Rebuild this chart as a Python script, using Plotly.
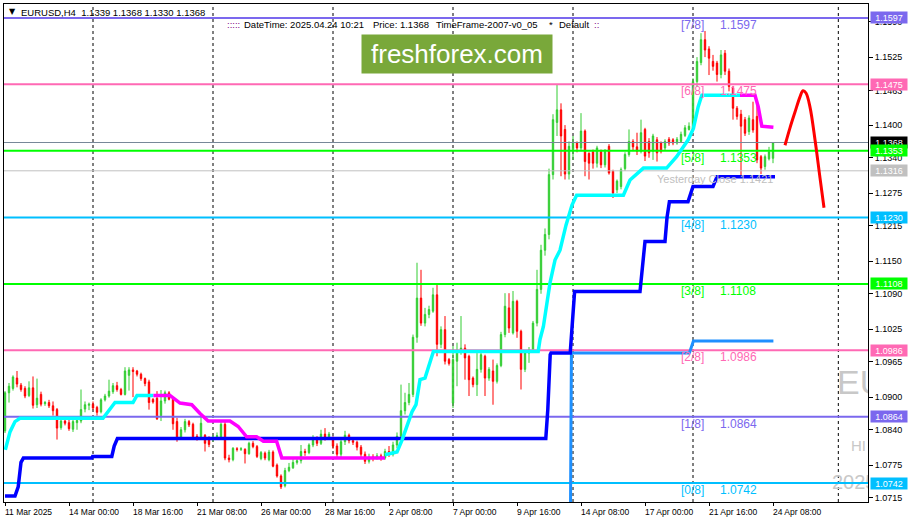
import plotly.graph_objects as go

# ---------------- data ----------------
x_tick_idx = [0, 16, 32, 48, 64, 80, 96, 112, 128, 144, 160, 176, 192]
x_tick_text = ["11 Mar 2025", "14 Mar 00:00", "18 Mar 16:00", "21 Mar 08:00", "26 Mar 00:00",
               "28 Mar 16:00", "2 Apr 08:00", "7 Apr 00:00", "9 Apr 16:00", "14 Apr 08:00",
               "17 Apr 00:00", "21 Apr 16:00", "24 Apr 08:00"]
y_tick_vals = [1.1590, 1.1525, 1.1463, 1.1400, 1.1340, 1.1275, 1.1215, 1.1150, 1.1090,
               1.1025, 1.0965, 1.0900, 1.0840, 1.0775, 1.0715]

opens = [
 1.0838, 1.0908, 1.0916, 1.0935, 1.0922, 1.0916, 1.0903, 1.0917, 1.0886, 1.0905,
 1.0888, 1.0890, 1.0884, 1.0877, 1.0844, 1.0856, 1.0853, 1.0841, 1.0853, 1.0856,
 1.0878, 1.0885, 1.0887, 1.0881, 1.0873, 1.0895, 1.0902, 1.0910, 1.0921, 1.0914,
 1.0905, 1.0940, 1.0950, 1.0948, 1.0942, 1.0934, 1.0928, 1.0896, 1.0898, 1.0866,
 1.0893, 1.0908, 1.0896, 1.0855, 1.0826, 1.0840, 1.0855, 1.0850, 1.0828, 1.0827,
 1.0830, 1.0825, 1.0823, 1.0827, 1.0826, 1.0850, 1.0788, 1.0785, 1.0805, 1.0804,
 1.0804, 1.0796, 1.0815, 1.0809, 1.0787, 1.0797, 1.0785, 1.0799, 1.0775, 1.0755,
 1.0737, 1.0765, 1.0770, 1.0780, 1.0783, 1.0800, 1.0798, 1.0812, 1.0822, 1.0815,
 1.0832, 1.0826, 1.0822, 1.0810, 1.0795, 1.0818, 1.0830, 1.0820, 1.0817, 1.0808,
 1.0795, 1.0782, 1.0790, 1.0788, 1.0792, 1.0788, 1.0800, 1.0795, 1.0812, 1.0828,
 1.0875, 1.0890, 1.0905, 1.1010, 1.1082, 1.1036, 1.1052, 1.1058, 1.1088, 1.0997,
 1.1024, 1.0969, 1.0889, 1.0966, 1.0987, 1.0990, 1.0975, 1.0935, 1.0923, 1.0951,
 1.0975, 1.0935, 1.0948, 1.0929, 1.0958, 1.1015, 1.1064, 1.1018, 1.1076, 1.1021,
 1.0951, 1.0981, 1.0987, 1.1036, 1.1098, 1.1170, 1.1199, 1.1309, 1.1405, 1.1428,
 1.1392, 1.1310, 1.1355, 1.1367, 1.1358, 1.1389, 1.1348, 1.1351, 1.1330, 1.1351,
 1.1327, 1.1361, 1.1315, 1.1281, 1.1287, 1.1320, 1.1346, 1.1370, 1.1360, 1.1352,
 1.1392, 1.1370, 1.1352, 1.1373, 1.1367, 1.1358, 1.1374, 1.1373, 1.1367, 1.1370,
 1.1381, 1.1392, 1.1393, 1.1480, 1.1515, 1.1557, 1.1540, 1.1517, 1.1514, 1.1493,
 1.1532, 1.1499, 1.1468, 1.1431, 1.1420, 1.1410, 1.1388, 1.1410, 1.1416, 1.1342,
 1.1324, 1.1338, 1.1339]
highs = [
 1.0911, 1.0926, 1.0940, 1.0948, 1.0926, 1.0920, 1.0929, 1.0938, 1.0934, 1.0910,
 1.0893, 1.0895, 1.0892, 1.0880, 1.0862, 1.0860, 1.0858, 1.0858, 1.0860, 1.0914,
 1.0892, 1.0890, 1.0892, 1.0884, 1.0898, 1.0906, 1.0932, 1.0926, 1.0928, 1.0917,
 1.0955, 1.0955, 1.0955, 1.0950, 1.0945, 1.0936, 1.0932, 1.0898, 1.0911, 1.0913,
 1.0912, 1.0911, 1.0900, 1.0862, 1.0845, 1.0860, 1.0858, 1.0853, 1.0832, 1.0866,
 1.0832, 1.0828, 1.0830, 1.0835, 1.0856, 1.0856, 1.0794, 1.0808, 1.0808, 1.0808,
 1.0806, 1.0818, 1.0819, 1.0812, 1.0801, 1.0800, 1.0803, 1.0802, 1.0778, 1.0758,
 1.0770, 1.0779, 1.0786, 1.0790, 1.0812, 1.0805, 1.0815, 1.0830, 1.0828, 1.0840,
 1.0843, 1.0836, 1.0828, 1.0815, 1.0822, 1.0838, 1.0833, 1.0824, 1.0820, 1.0812,
 1.0800, 1.0796, 1.0795, 1.0797, 1.0796, 1.0805, 1.0810, 1.0818, 1.0835, 1.0923,
 1.0908, 1.0926, 1.1015, 1.1147, 1.1134, 1.1064, 1.1068, 1.1101, 1.1107, 1.1030,
 1.1049, 1.0972, 1.0994, 1.1000, 1.1049, 1.0997, 1.0978, 1.0938, 1.0981, 1.0985,
 1.0978, 1.0955, 1.0969, 1.0962, 1.1020, 1.1091, 1.1091, 1.1095, 1.1079, 1.1024,
 1.0985, 1.0992, 1.1040, 1.1134, 1.1180, 1.1210, 1.1320, 1.1420, 1.1474, 1.1440,
 1.1400, 1.1370, 1.1380, 1.1370, 1.1422, 1.1392, 1.1350, 1.1355, 1.1362, 1.1355,
 1.1356, 1.1365, 1.1318, 1.1300, 1.1322, 1.1350, 1.1392, 1.1374, 1.1386, 1.1410,
 1.1395, 1.1376, 1.1384, 1.1378, 1.1370, 1.1374, 1.1378, 1.1376, 1.1378, 1.1388,
 1.1400, 1.1405, 1.1486, 1.1525, 1.1569, 1.1573, 1.1545, 1.1529, 1.1518, 1.1538,
 1.1538, 1.1504, 1.1472, 1.1435, 1.1428, 1.1415, 1.1418, 1.1443, 1.1440, 1.1345,
 1.1346, 1.1360, 1.1368]
lows = [
 1.0834, 1.0890, 1.0912, 1.0918, 1.0910, 1.0898, 1.0900, 1.0879, 1.0880, 1.0883,
 1.0884, 1.0880, 1.0866, 1.0822, 1.0840, 1.0848, 1.0838, 1.0836, 1.0840, 1.0852,
 1.0872, 1.0876, 1.0877, 1.0866, 1.0870, 1.0892, 1.0899, 1.0906, 1.0910, 1.0903,
 1.0903, 1.0912, 1.0900, 1.0938, 1.0930, 1.0920, 1.0877, 1.0888, 1.0858, 1.0856,
 1.0888, 1.0894, 1.0840, 1.0818, 1.0822, 1.0835, 1.0845, 1.0824, 1.0820, 1.0822,
 1.0800, 1.0808, 1.0818, 1.0824, 1.0822, 1.0784, 1.0780, 1.0782, 1.0800, 1.0801,
 1.0778, 1.0794, 1.0806, 1.0788, 1.0784, 1.0784, 1.0782, 1.0771, 1.0752, 1.0731,
 1.0734, 1.0762, 1.0768, 1.0776, 1.0778, 1.0792, 1.0795, 1.0808, 1.0810, 1.0812,
 1.0820, 1.0824, 1.0805, 1.0787, 1.0790, 1.0812, 1.0815, 1.0812, 1.0802, 1.0790,
 1.0777, 1.0778, 1.0782, 1.0785, 1.0783, 1.0785, 1.0790, 1.0791, 1.0806, 1.0822,
 1.0868, 1.0885, 1.0900, 1.1000, 1.1031, 1.1030, 1.1045, 1.1055, 1.0975, 1.0990,
 1.0960, 1.0958, 1.0880, 1.0920, 1.0978, 1.0932, 1.0902, 1.0918, 1.0902, 1.0945,
 1.0902, 1.0930, 1.0886, 1.0925, 1.0955, 1.1010, 1.1018, 1.1015, 1.1009, 1.0914,
 1.0946, 1.0963, 1.0982, 1.1030, 1.1090, 1.1160, 1.1190, 1.1300, 1.1380, 1.1306,
 1.1300, 1.1300, 1.1336, 1.1350, 1.1352, 1.1306, 1.1300, 1.1320, 1.1322, 1.1321,
 1.1322, 1.1309, 1.1266, 1.1275, 1.1282, 1.1316, 1.1342, 1.1352, 1.1345, 1.1348,
 1.1334, 1.1340, 1.1336, 1.1333, 1.1348, 1.1354, 1.1362, 1.1363, 1.1364, 1.1367,
 1.1378, 1.1390, 1.1388, 1.1470, 1.1510, 1.1525, 1.1492, 1.1500, 1.1480, 1.1486,
 1.1492, 1.1462, 1.1410, 1.1410, 1.1306, 1.1380, 1.1382, 1.1386, 1.1330, 1.1310,
 1.1318, 1.1335, 1.1330]
closes = [
 1.0908, 1.0920, 1.0937, 1.0924, 1.0914, 1.0902, 1.0917, 1.0885, 1.0898, 1.0887,
 1.0890, 1.0884, 1.0875, 1.0843, 1.0856, 1.0852, 1.0842, 1.0855, 1.0857, 1.0877,
 1.0886, 1.0887, 1.0880, 1.0872, 1.0895, 1.0902, 1.0911, 1.0921, 1.0914, 1.0905,
 1.0948, 1.0950, 1.0947, 1.0942, 1.0934, 1.0925, 1.0890, 1.0891, 1.0860, 1.0893,
 1.0908, 1.0896, 1.0851, 1.0822, 1.0840, 1.0855, 1.0849, 1.0827, 1.0826, 1.0852,
 1.0815, 1.0813, 1.0827, 1.0829, 1.0850, 1.0788, 1.0785, 1.0806, 1.0804, 1.0805,
 1.0796, 1.0815, 1.0809, 1.0791, 1.0798, 1.0788, 1.0799, 1.0773, 1.0755, 1.0735,
 1.0765, 1.0771, 1.0780, 1.0783, 1.0800, 1.0798, 1.0812, 1.0822, 1.0815, 1.0832,
 1.0826, 1.0832, 1.0810, 1.0795, 1.0818, 1.0830, 1.0820, 1.0817, 1.0808, 1.0795,
 1.0782, 1.0790, 1.0788, 1.0792, 1.0788, 1.0800, 1.0795, 1.0812, 1.0828, 1.0875,
 1.0890, 1.0905, 1.1010, 1.1082, 1.1036, 1.1052, 1.1061, 1.1088, 1.0997, 1.1024,
 1.0966, 1.0962, 1.0969, 1.0987, 1.0990, 1.0972, 1.0932, 1.0923, 1.0951, 1.0978,
 1.0935, 1.0951, 1.0929, 1.0958, 1.1015, 1.1067, 1.1027, 1.1076, 1.1021, 1.0951,
 1.0981, 1.0987, 1.1036, 1.1098, 1.1170, 1.1199, 1.1309, 1.1410, 1.1428, 1.1380,
 1.1310, 1.1361, 1.1367, 1.1358, 1.1389, 1.1333, 1.1330, 1.1330, 1.1358, 1.1327,
 1.1351, 1.1312, 1.1275, 1.1297, 1.1318, 1.1346, 1.1370, 1.1360, 1.1352, 1.1386,
 1.1343, 1.1349, 1.1380, 1.1349, 1.1352, 1.1370, 1.1367, 1.1367, 1.1374, 1.1383,
 1.1395, 1.1398, 1.1480, 1.1517, 1.1557, 1.1538, 1.1523, 1.1508, 1.1493, 1.1529,
 1.1499, 1.1471, 1.1431, 1.1416, 1.1398, 1.1385, 1.1413, 1.1391, 1.1336, 1.1321,
 1.1342, 1.1351, 1.1368]

murrey_names = ["[7/8]", "[6/8]", "[5/8]", "[4/8]", "[3/8]", "[2/8]", "[1/8]", "[0/8]"]
murrey_levels = [1.1597, 1.1475, 1.1353, 1.1230, 1.1108, 1.0986, 1.0864, 1.0742]
murrey_colors = ["#7B68EE", "#FF69B4", "#00FF00", "#00BFFF", "#00FF00", "#FF69B4", "#7B68EE", "#00BFFF"]

bid_price = 1.1368
prev_close_line = 1.1316

# trailing stop line (cyan = up, magenta = down), breakpoints (bar index, price)
trail_up_x = [0.08, 1.25, 2.5, 3.75, 24.5, 27.5, 32, 33, 37.1, None,
              95, 98, 99.25, 100.5, 101.75, 102.75, 103.75, 105, 106.25, 107.1, 133.3,
              133.75, 134.6, 136.25, 137.5, 138.75, 140.25, 141.75, 142.9, 154.6, 156.25,
              159.6, 165.4, 167.9, 169.6, 170.8, 172.1, 173.3, 174.2, 183.75]
trail_up_y = [1.0803, 1.0836, 1.0855, 1.0861, 1.0861, 1.0890, 1.0890, 1.0903, 1.0903, None,
              1.0794, 1.0799, 1.0821, 1.0848, 1.0873, 1.0886, 1.0932, 1.0935, 1.0963, 1.0984, 1.0984,
              1.1006, 1.1030, 1.1110, 1.1152, 1.1170, 1.1216, 1.1253, 1.1271, 1.1271, 1.1299,
              1.1321, 1.1321, 1.1342, 1.1360, 1.1373, 1.1394, 1.1434, 1.1455, 1.1455]
trail_dn_x = [37.1, 41.25, 43.75, 46.7, 48.75, 50.8, 56.25, 58.3, 60.4, 62.9, 64.6, 67.9, 69.2, 95, None,
              183.75, 187.5, 188.3, 189.2, 192.1]
trail_dn_y = [1.0903, 1.0903, 1.0889, 1.0886, 1.0870, 1.0856, 1.0856, 1.0846, 1.0827, 1.0827, 1.0819,
              1.0819, 1.0788, 1.0788, None,
              1.1455, 1.1455, 1.1434, 1.1398, 1.1396]

# blue step line
step_x = [0, 2.5, 3.3, 4.0, 4.6, 21.7, 21.9, 26.7, 27.3, 28.1, 135.2, 135.7, 136.3, 136.5, 141.3,
          142.0, 142.4, 158.75, 159.5, 160, 165, 165.5, 166.1, 170.75, 172, 177, 178, 192.5]
step_y = [1.0718, 1.0718, 1.0735, 1.0780, 1.0788, 1.0788, 1.0791, 1.0791, 1.0810, 1.0824, 1.0824,
          1.0877, 1.0978, 1.0981, 1.0981, 1.1060, 1.1094, 1.1094, 1.1150, 1.1186, 1.1186, 1.1230,
          1.1259, 1.1259, 1.1287, 1.1287, 1.1305, 1.1305]

# dodger blue line
db_x = [141.3, 141.6, 171.1, 172.1, 192.1]
db_y = [1.0600, 1.0981, 1.0981, 1.1003, 1.1003]

# red forecast curve
fc_x = [195, 196.25, 197.5, 198.75, 199.5, 200.25, 201.25, 202.5, 203.75, 204.75]
fc_y = [1.1363, 1.1395, 1.1424, 1.1452, 1.1463, 1.1459, 1.1433, 1.1373, 1.1303, 1.1248]

weekly_grid = [22, 52, 82, 112, 142, 172, 208.33]

# ---------------- geometry helpers ----------------
W, H = 911, 524
PL, PR, PT, PB = 4, 868, 4, 502
X_MIN, X_MAX = -0.25, 215.75
Y_MIN, Y_MAX = 1.07072, 1.16226


def pxx(px):
    return (px - PL) / (PR - PL)


def pxy(py):
    return (PB - py) / (PB - PT)


def dxx(px):
    return X_MIN + (px - PL) / (PR - PL) * (X_MAX - X_MIN)


def dyy(py):
    return Y_MAX - (py - PT) / (PB - PT) * (Y_MAX - Y_MIN)


FONT = "Liberation Sans, Arial, sans-serif"

fig = go.Figure()

# watermark text (clipped by plot area)
for txt, px, py, size in [("EU", 837, 385, 34), ("HI", 851, 447, 15), ("2025", 832, 484, 20)]:
    fig.add_trace(go.Scatter(x=[dxx(px)], y=[dyy(py)], mode="text", text=[txt],
                             textposition="middle right", cliponaxis=True,
                             textfont=dict(family=FONT, size=size, color="#C8C8C8"),
                             showlegend=False, hoverinfo="skip"))

bars = list(range(len(opens)))
fig.add_trace(go.Candlestick(
    x=bars, open=opens, high=highs, low=lows, close=closes,
    increasing=dict(line=dict(color="#32CD32", width=1), fillcolor="#32CD32"),
    decreasing=dict(line=dict(color="#FF0000", width=1), fillcolor="#FF0000"),
    whiskerwidth=0, showlegend=False, hoverinfo="skip"))

# horizontal lines
fig.add_trace(go.Scatter(x=[X_MIN, X_MAX], y=[prev_close_line] * 2, mode="lines",
                         line=dict(color="#C0C0C0", width=1), showlegend=False, hoverinfo="skip"))
fig.add_trace(go.Scatter(x=[X_MIN, X_MAX], y=[bid_price] * 2, mode="lines",
                         line=dict(color="#778899", width=1), showlegend=False, hoverinfo="skip"))
for lvl, col in zip(murrey_levels, murrey_colors):
    fig.add_trace(go.Scatter(x=[X_MIN, X_MAX], y=[lvl, lvl], mode="lines",
                             line=dict(color=col, width=2), showlegend=False, hoverinfo="skip"))

fig.add_trace(go.Scatter(x=db_x, y=db_y, mode="lines", line=dict(color="#1E90FF", width=3),
                         showlegend=False, hoverinfo="skip"))
fig.add_trace(go.Scatter(x=step_x, y=step_y, mode="lines", line=dict(color="#0000FF", width=3.5),
                         showlegend=False, hoverinfo="skip"))
fig.add_trace(go.Scatter(x=trail_up_x, y=trail_up_y, mode="lines", line=dict(color="#00FFFF", width=3.5),
                         showlegend=False, hoverinfo="skip", connectgaps=False))
fig.add_trace(go.Scatter(x=trail_dn_x, y=trail_dn_y, mode="lines", line=dict(color="#FF00FF", width=3.5),
                         showlegend=False, hoverinfo="skip", connectgaps=False))
fig.add_trace(go.Scatter(x=fc_x, y=fc_y, mode="lines", line=dict(color="#FF0000", width=3, shape="spline"),
                         showlegend=False, hoverinfo="skip"))

shapes = []
for g in weekly_grid:
    shapes.append(dict(type="line", xref="x", yref="paper", x0=g, x1=g, y0=0, y1=1,
                       line=dict(color="black", width=1, dash="dot"), layer="below"))

ann = []
# x-axis labels (left aligned at ticks)
for idx, txt in zip(x_tick_idx, x_tick_text):
    ann.append(dict(x=idx, xref="x", y=0, yref="paper", xanchor="left", yanchor="top",
                    xshift=-2, yshift=-3, text=txt, showarrow=False,
                    font=dict(family=FONT, size=8.5, color="black")))

# right-axis price labels
axis_labels = [(murrey_levels[0], murrey_colors[0]), (murrey_levels[1], murrey_colors[1]),
               (bid_price, "#000000"), (murrey_levels[2], murrey_colors[2]),
               (prev_close_line, "#C0C0C0"), (murrey_levels[3], murrey_colors[3]),
               (murrey_levels[4], murrey_colors[4]), (murrey_levels[5], murrey_colors[5]),
               (murrey_levels[6], murrey_colors[6]), (murrey_levels[7], murrey_colors[7])]
for val, col in axis_labels:
    ann.append(dict(x=1, xref="paper", y=val, yref="y", xanchor="left", yanchor="middle",
                    xshift=2, text=f"{val:.4f}", showarrow=False, bgcolor=col,
                    width=34, height=9, borderpad=1,
                    font=dict(family=FONT, size=9, color="white")))

# murrey labels
for name, lvl, col in zip(murrey_names, murrey_levels, murrey_colors):
    ann.append(dict(x=pxx(679), xref="paper", y=lvl, yref="y", xanchor="left", yanchor="middle",
                    yshift=-7, text=name, showarrow=False, font=dict(family=FONT, size=12, color=col)))
    ann.append(dict(x=pxx(718), xref="paper", y=lvl, yref="y", xanchor="left", yanchor="middle",
                    yshift=-7, text=f"{lvl:.4f}", showarrow=False, font=dict(family=FONT, size=12, color=col)))

ann.append(dict(x=pxx(655), xref="paper", y=pxy(179), yref="paper", xanchor="left", yanchor="middle",
                text="Yesterday Close 1.1421", showarrow=False,
                font=dict(family=FONT, size=11, color="#C0C0C0")))

# header
ann.append(dict(x=pxx(12), xref="paper", y=pxy(12), yref="paper", xanchor="center", yanchor="middle",
                text="▼", showarrow=False, font=dict(family="DejaVu Sans", size=8, color="black")))
ann.append(dict(x=pxx(19), xref="paper", y=pxy(12.5), yref="paper", xanchor="left", yanchor="middle",
                text="EURUSD,H4\u00a0\u00a01.1339 1.1368 1.1330 1.1368", showarrow=False,
                font=dict(family=FONT, size=9.5, color="black")))
for txt, px, col in [(":::::", 225, "#800080"), ("DateTime: 2025.04.24 10:21", 242, "black"),
                     ("Price: 1.1368", 371, "black"), ("TimeFrame-2007-v0_05", 434, "black"),
                     ("*", 547, "black"), ("Default", 557, "black"), ("::", 592, "#800080")]:
    ann.append(dict(x=pxx(px), xref="paper", y=pxy(25), yref="paper", xanchor="left", yanchor="middle",
                    text=txt, showarrow=False, font=dict(family=FONT, size=9.5, color=col)))

# freshforex logo box
ann.append(dict(x=pxx(457), xref="paper", y=pxy(54), yref="paper", xanchor="center", yanchor="middle",
                text="freshforex.com", showarrow=False, bgcolor="#79A83A", width=188, height=36,
                borderpad=1, font=dict(family=FONT, size=26, color="white")))

fig.update_layout(
    width=W, height=H,
    margin=dict(l=PL, r=W - PR, t=PT, b=H - PB, pad=0),
    paper_bgcolor="white", plot_bgcolor="white",
    showlegend=False, boxgap=0.5,
    shapes=shapes, annotations=ann,
    xaxis=dict(range=[X_MIN, X_MAX], showgrid=False, zeroline=False, rangeslider=dict(visible=False),
               tickvals=x_tick_idx, ticktext=[""] * len(x_tick_idx), ticks="outside", ticklen=3,
               tickcolor="black", showline=True, linecolor="black", linewidth=1, mirror=True,
               fixedrange=True),
    yaxis=dict(range=[Y_MIN, Y_MAX], side="right", showgrid=False, zeroline=False,
               tickvals=y_tick_vals, tickformat=".4f", ticks="outside", ticklen=4, tickcolor="black",
               tickfont=dict(family=FONT, size=9, color="black"),
               showline=True, linecolor="black", linewidth=1, mirror=True, fixedrange=True),
)

fig.write_html("out.html", config={"displayModeBar": False},
               post_script="document.body.style.margin='0px';")
